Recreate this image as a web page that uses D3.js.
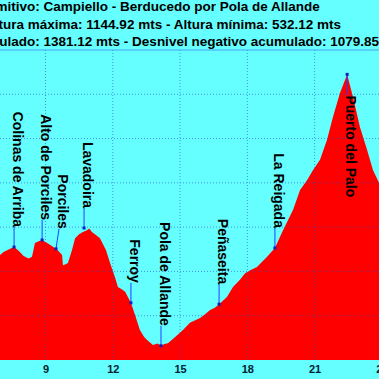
<!DOCTYPE html>
<html><head><meta charset="utf-8">
<script src="https://cdn.jsdelivr.net/npm/d3@7"></script>
<style>
html,body{margin:0;padding:0;background:#66ffff;overflow:hidden;}
text{font-family:"Liberation Sans",Arial,sans-serif;}
</style></head>
<body>
<script>
// ---- data ----
const titleLines = [
  "Camino Primitivo: Campiello - Berducedo por Pola de Allande",
  "Altura máxima: 1144.92 mts - Altura mínima: 532.12 mts",
  "Desnivel positivo acumulado: 1381.12 mts - Desnivel negativo acumulado: 1079.85 mts"
];
const distKm = [6.97,7.13,7.29,7.45,7.60,7.75,7.86,8.00,8.09,8.25,8.40,8.53,8.70,8.85,9.02,9.20,9.35,9.47,9.60,9.74,9.78,9.90,10.00,10.18,10.32,10.50,10.67,10.85,10.95,11.07,11.25,11.43,11.70,11.88,12.10,12.23,12.40,12.55,12.81,12.99,13.21,13.40,13.53,13.79,14.00,14.15,14.30,14.46,14.78,15.13,15.44,15.89,16.10,16.34,16.55,16.74,17.09,17.36,17.67,17.90,18.15,18.43,18.88,19.23,19.59,20.04,20.35,20.66,20.93,21.24,21.55,21.82,22.13,22.45,22.71,23.02,23.34,23.60,23.87,24.2];
const elevM  = [737,744,748,752,755,749,744,736,733,729,733,764,768,771,766,760,755,751,745,737,714,716,719,748,775,784,789,793,797,789,782,775,748,719,687,665,660,654,629,602,568,552,545,534,537,532.12,536,538,552,568,584,595,603,613,618,626,642,665,681,696,703,710,733,753,793,839,884,906,929,952,997,1049,1103,1144.92,1094,1026,974,929,900,885];
const wpNames = ["Colinas de Arriba","Alto de Porciles","Porciles","Lavadoira","Ferroy","Pola de Allande","Peñaseita","La Reigada","Puerto del Palo"];
const wpKm    = [7.60,8.85,9.47,10.72,12.81,14.15,16.74,19.23,22.45];
const wpElev  = [755,771,751,798,629,532.12,626,753,1144.92];
const wpBelow = [false,false,false,false,false,false,false,false,true];
const wpShift = [0,0,3,0,0,0,0,0,0];
const xTicks = [9,12,15,18,21,24];

// ---- layout ----
const W = 379, H = 379;
const svg = d3.select("body").append("svg").attr("width",W).attr("height",H);
svg.append("rect").attr("width",W).attr("height",H).attr("fill","#66ffff");

const x = d3.scaleLinear().domain([0,25]).range([-156.4, 404.35]);
const y = d3.scaleLinear().domain([500,1200]).range([360,50]);

// title
const titleX = [122, 163, 128];
svg.selectAll("text.title").data(titleLines).join("text")
  .attr("class","title")
  .attr("x",(d,i)=>titleX[i]).attr("y",(d,i)=>11+i*17.6)
  .attr("text-anchor","middle")
  .attr("font-size",13.5).attr("font-weight","bold").attr("fill","#000")
  .text(d=>d);

// area
const data = distKm.map((k,i)=>({k, e:elevM[i]}));
svg.append("path").datum(data)
  .attr("fill","#ff0000")
  .attr("d", d3.area().x(d=>x(d.k)).y0(y(500)).y1(d=>y(d.e)));

// grid
const g = svg.append("g");
g.selectAll("line.h").data(d3.range(600,1200,100)).join("line")
  .attr("x1",0).attr("x2",W).attr("y1",d=>y(d)).attr("y2",d=>y(d))
  .attr("stroke","#2a4fd0").attr("stroke-opacity",0.6).attr("stroke-dasharray","1,2");
g.selectAll("line.v").data(xTicks).join("line")
  .attr("x1",d=>x(d)).attr("x2",d=>x(d)).attr("y1",y(1200)).attr("y2",y(500))
  .attr("stroke","#2a4fd0").attr("stroke-opacity",0.6).attr("stroke-dasharray","1,2");
g.append("line").attr("x1",0).attr("x2",W).attr("y1",y(1200)).attr("y2",y(1200))
  .attr("stroke","#4aa0ee").attr("stroke-width",1.2);

// axis
const ax = svg.append("g").attr("transform",`translate(0,${y(500)})`)
  .call(d3.axisBottom(x).tickValues(xTicks).tickSize(0).tickPadding(5).tickFormat(d3.format("d")));
ax.select(".domain").remove();
ax.selectAll("text").attr("font-size",11).attr("font-weight","bold").attr("fill","#002233")
  .attr("font-family","Liberation Sans, Arial, sans-serif");

// waypoints
const wp = wpNames.map((n,i)=>({n,k:wpKm[i],e:wpElev[i],below:wpBelow[i],s:wpShift[i]}));
const wg = svg.append("g");
wg.selectAll("line").data(wp).join("line")
  .attr("x1",d=>x(d.k)).attr("y1",d=>y(d.e))
  .attr("x2",d=>x(d.k)+d.s).attr("y2",d=>d.below? y(d.e)+20 : y(d.e)-20)
  .attr("stroke","#2040ff").attr("stroke-width",1);
wg.selectAll("rect").data(wp).join("rect")
  .attr("x",d=>x(d.k)-1.5).attr("y",d=>y(d.e)-1.5).attr("width",3).attr("height",3)
  .attr("fill","#1020c0");
wg.selectAll("text").data(wp).join("text")
  .attr("transform",d=>`translate(${x(d.k)+d.s-1},${d.below? y(d.e)+21 : y(d.e)-20}) rotate(90)`)
  .attr("text-anchor",d=>d.below?"start":"end")
  .attr("font-size",14).attr("font-weight","bold").attr("fill","#000")
  .text(d=>d.n);
</script>
</body></html>
